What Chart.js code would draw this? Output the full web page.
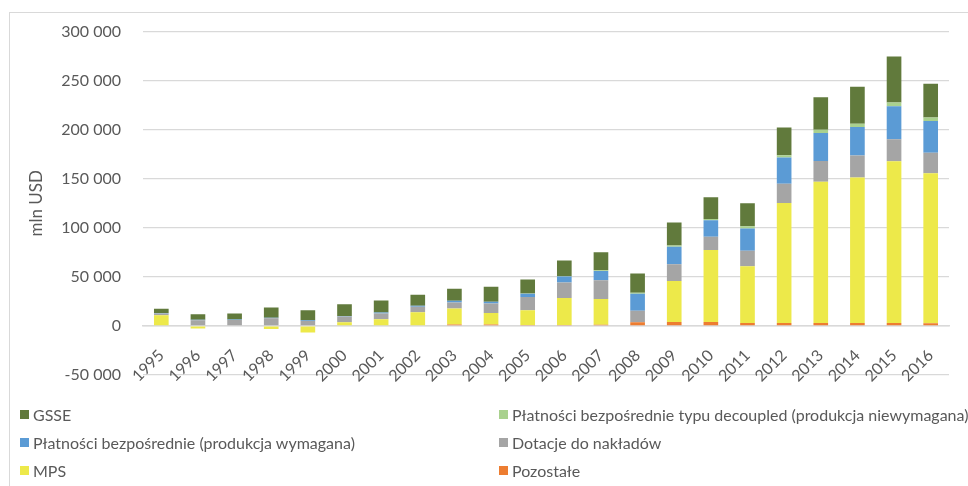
<!DOCTYPE html>
<html lang="pl">
<head>
<meta charset="utf-8">
<title>Wsparcie rolnictwa (mln USD)</title>
<script src="https://cdn.jsdelivr.net/npm/chart.js@4.4.1/dist/chart.umd.min.js"></script>
<style>
  html,body{margin:0;padding:0;background:#fff;}
  #wrap{position:relative;width:968px;height:486px;overflow:hidden;font-family:Lato,"Open Sans",sans-serif;}
  #frame{position:absolute;left:9px;top:12px;width:1000px;height:500px;border-left:1px solid #d9d9d9;border-top:1px solid #d9d9d9;}
  #chart{position:absolute;left:0;top:0;}
  #legend{position:absolute;left:20px;top:405px;display:grid;grid-template-columns:479px 460px;row-gap:10px;}
  #legend .item{display:flex;align-items:center;height:18px;font-size:16px;color:#595959;white-space:nowrap;}
  #legend .box{width:9px;height:9px;margin-right:4px;flex:none;}
</style>
</head>
<body>
<div id="wrap">
  <div id="frame"></div>
  <canvas id="chart" width="968" height="486"></canvas>
  <div id="legend"></div>
</div>
<script>
/* ---------- data (mln USD) ---------- */
const years = ['1995','1996','1997','1998','1999','2000','2001','2002','2003','2004','2005',
               '2006','2007','2008','2009','2010','2011','2012','2013','2014','2015','2016'];
const pozostale = [0,0,0,0,0,0,0,600,1400,1400,1000,1000,1300,3700,4000,4000,3000,3000,3000,3000,3000,2700];
const mps       = [10800,-2700,0,-3000,-6800,3700,6800,13300,16500,11800,14900,27400,26100,0,41900,73400,57800,122300,143900,148300,164900,153000];
const dotacje   = [2000,5700,6100,7800,5100,5800,6000,5700,6100,9800,13500,15900,19200,11800,16900,13500,15900,19600,21300,22300,22300,20700];
const platWym   = [300,500,500,600,600,600,1000,1000,1700,1700,3400,6000,9500,17300,17900,16900,22600,26700,28400,29100,33800,32400];
const decoupled = [0,0,0,0,0,0,0,0,0,0,300,300,600,1000,1400,1300,2400,2400,3400,3400,3700,3700];
const gsse      = [4500,5600,6200,10500,10200,11900,12200,11200,12100,15200,14200,16000,18300,19600,23300,22000,23300,28300,33100,37800,46800,34400];
const yTicks    = [-50000,0,50000,100000,150000,200000,250000,300000];

const TXT = '#595959', GRID = '#d9d9d9';
const FONT = 'Lato, "Open Sans", sans-serif';

function fmt(v){ return String(v).replace(/\B(?=(\d{3})+(?!\d))/g, ' '); }

// stack order bottom -> top
const series = [
  ['Pozostałe', pozostale, '#ed7d31'],
  ['MPS', mps, '#ede94a'],
  ['Dotacje do nakładów', dotacje, '#a5a5a5'],
  ['Płatności bezpośrednie (produkcja wymagana)', platWym, '#5b9bd5'],
  ['Płatności bezpośrednie typu decoupled (produkcja niewymagana)', decoupled, '#a9d18e'],
  ['GSSE', gsse, '#617a3c']
];

/* ---------- html legend, two columns like the original ---------- */
const htmlLegend = {
  id: 'htmlLegend',
  afterUpdate(chart){
    const box = document.getElementById('legend');
    box.innerHTML = '';
    const items = chart.options.plugins.legend.labels.generateLabels(chart).reverse();
    items.forEach(it => {
      const el = document.createElement('div'); el.className = 'item';
      const sw = document.createElement('span'); sw.className = 'box'; sw.style.background = it.fillStyle;
      el.appendChild(sw); el.appendChild(document.createTextNode(it.text));
      box.appendChild(el);
    });
  }
};

new Chart(document.getElementById('chart'), {
  type: 'bar',
  data: {
    labels: years,
    datasets: series.map(s => ({ label: s[0], data: s[1], backgroundColor: s[2], borderWidth: 0 }))
  },
  options: {
    responsive: false, animation: false,
    layout: { padding: { left: 10, top: 31, right: 19, bottom: 111 } },
    datasets: { bar: { categoryPercentage: 0.4, barPercentage: 1 } },
    plugins: { legend: { display: false }, tooltip: { enabled: false } },
    scales: {
      x: {
        stacked: true,
        position: { y: 0 },
        afterFit: s => { s.height = 0; },
        grid: { display: false, drawTicks: false },
        border: { color: GRID, width: 1.5 },
        ticks: { color: TXT, font: { family: FONT, size: 16 }, minRotation: 45, maxRotation: 45, padding: 20, autoSkip: false }
      },
      y: {
        stacked: true,
        min: -50000, max: 300000,
        afterFit: s => { s.width = 133; },
        afterBuildTicks: s => { s.ticks = yTicks.map(v => ({ value: v })); },
        grid: { color: GRID, lineWidth: 1.3, drawTicks: false },
        border: { display: false },
        ticks: { color: TXT, font: { family: FONT, size: 16 }, padding: 22, callback: v => fmt(v) },
        title: { display: true, text: 'mln USD', color: TXT, font: { family: FONT, size: 17 }, padding: { top: 16, bottom: 0 } }
      }
    }
  },
  plugins: [htmlLegend]
});
</script>
</body>
</html>
